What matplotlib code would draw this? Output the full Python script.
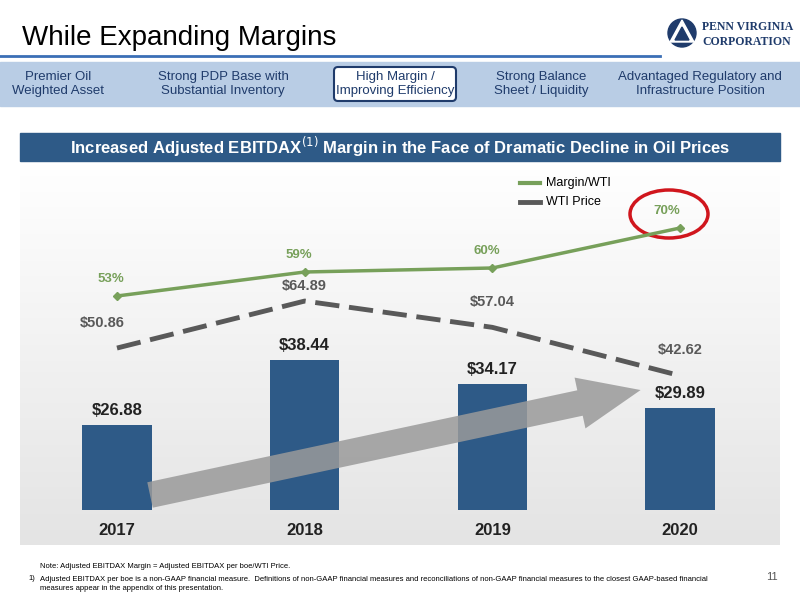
import matplotlib
matplotlib.use("Agg")
import matplotlib.pyplot as plt
import numpy as np
from matplotlib.patches import Rectangle, FancyBboxPatch, Ellipse, FancyArrow, Circle, Polygon

plt.rcParams['font.family'] = ['Liberation Sans', 'DejaVu Sans']

years = ["2017", "2018", "2019", "2020"]
ebitdax = [26.88, 38.44, 34.17, 29.89]
wti = [50.86, 64.89, 57.04, 42.62]
margin = [53, 59, 60, 70]
tabs = ["Premier Oil\nWeighted Asset", "Strong PDP Base with\nSubstantial Inventory",
        "High Margin /\nImproving Efficiency", "Strong Balance\nSheet / Liquidity",
        "Advantaged Regulatory and\nInfrastructure Position"]

W, H = 800, 600
fig = plt.figure(figsize=(8, 6), dpi=100)
bg = fig.add_axes([0, 0, 1, 1])
bg.set_xlim(0, W); bg.set_ylim(H, 0); bg.axis("off")

navy = "#2e5a87"
bg.text(22, 38, "While Expanding Margins", fontsize=20, va="center", color="black")
bg.plot([0, 660], [56, 56], color="#3b6fb6", lw=2)
# logo
bg.add_patch(Circle((682, 33), 14, color="#1f3b6b"))
bg.add_patch(Polygon([[682, 20], [670, 42], [694, 42]], color="white"))
bg.add_patch(Polygon([[682, 27], [675, 40], [689, 40]], color="#1f3b6b"))
bg.text(702, 27, "PENN VIRGINIA", fontsize=8.5, family="Liberation Serif", weight="bold", color="#1f3b6b", va="center")
bg.text(702, 42, "CORPORATION", fontsize=8.5, family="Liberation Serif", weight="bold", color="#1f3b6b", va="center")
# tab bar
bg.add_patch(Rectangle((0, 62), W, 44, color="#b9cde5"))
tx = [58, 223, 395, 541, 700]
for i, (x, t) in enumerate(zip(tx, tabs)):
    if i == 2:
        bg.add_patch(FancyBboxPatch((334, 67), 122, 34, boxstyle="round,pad=0,rounding_size=4",
                                    fc="white", ec="#1f3b6b", lw=1.5))
    bg.text(x, 84, t, ha="center", va="center", fontsize=9.5, color="#1f3b6b", linespacing=1.2)
# banner
bg.add_patch(Rectangle((20, 133), 760, 28, color=navy))
bg.text(400, 147, r"Increased Adjusted EBITDAX$^{(1)}$ Margin in the Face of Dramatic Decline in Oil Prices",
        ha="center", va="center", fontsize=12, weight="bold", color="white")
grad = np.linspace(0, 1, 100).reshape(-1, 1)
bg.imshow(grad, extent=(20, 780, 545, 161), cmap=matplotlib.colors.LinearSegmentedColormap.from_list("g", ["#ffffff", "#e4e4e4"]),
          aspect="auto", zorder=0)
bg.set_xlim(0, W); bg.set_ylim(H, 0)

# footer
bg.text(40, 567, "Note: Adjusted EBITDAX Margin = Adjusted EBITDAX per boe/WTI Price.", fontsize=5.5, va="center")
bg.text(28, 579, "1)", fontsize=5.5, va="center")
bg.text(40, 584, "Adjusted EBITDAX per boe is a non-GAAP financial measure.  Definitions of non-GAAP financial measures and reconciliations of non-GAAP financial measures to the closest GAAP-based financial\nmeasures appear in the appendix of this presentation.", fontsize=5.5, va="center", linespacing=1.3)
bg.text(778, 577, "11", fontsize=8, ha="right", va="center", color="#555555")
# legend
bg.plot([520, 540], [183, 183], color="#77a05a", lw=3)
bg.text(546, 183, "Margin/WTI", fontsize=9, va="center")
bg.plot([520, 540], [202, 202], color="#595959", lw=3.5)
bg.text(546, 202, "WTI Price", fontsize=9, va="center")

pos = [20 / W, 1 - 545 / H, 760 / W, 385 / H]
x = np.arange(4)
xl = (-(117 - 20) / 187.7, 3 + (780 - 680) / 187.7)

def mk(ylim):
    a = fig.add_axes(pos)
    a.set_xlim(*xl); a.set_ylim(*ylim); a.axis("off"); a.patch.set_alpha(0)
    return a

base = 11.75
ab = mk((5.52, 74.0))
ab.bar(x, np.array(ebitdax) - base, bottom=base, width=0.37, color=navy)
for xi, v in zip(x, ebitdax):
    ab.text(xi, v + 1.2, f"${v:.2f}", ha="center", va="bottom", fontsize=12, weight="bold", color="#222222")
for xi, y in zip(x, years):
    ab.text(xi, 8.1, y, ha="center", va="center", fontsize=12, weight="bold", color="#222222")

bg2 = fig.add_axes([0, 0, 1, 1]); bg2.set_xlim(0, W); bg2.set_ylim(H, 0); bg2.axis("off"); bg2.patch.set_alpha(0)
bg2.add_patch(FancyArrow(150, 495, 430, -92, width=26, head_width=52, head_length=62,
                         length_includes_head=False, color="#9a9a9a", alpha=0.85, lw=0))

aw = mk((-7.94, 107.0))
aw.plot(x, wti, color="#595959", lw=3.5, ls=(0, (5, 2)))
offs = [5.5, 2.5, 5.5, 5.5]
for xi, v, o in zip(x, wti, offs):
    aw.text(xi - 0.08 if xi == 0 else xi, v + o, f"${v:.2f}", ha="center", va="bottom", fontsize=10.5, weight="bold", color="#595959")

am = mk((-9.25, 87.0))
am.plot(x, margin, color="#77a05a", lw=2.5, marker="D", ms=4)
for xi, v in zip(x, margin):
    am.text(xi - 0.07 if xi == 3 else xi - 0.03, v + 2.8, f"{v}%", ha="center", va="bottom", fontsize=9.5, weight="bold", color="#77a05a")

bg2.add_patch(Ellipse((669, 214), 78, 48, fill=False, ec="#d0161d", lw=2.5))

fig.savefig("out.png", dpi=100)
